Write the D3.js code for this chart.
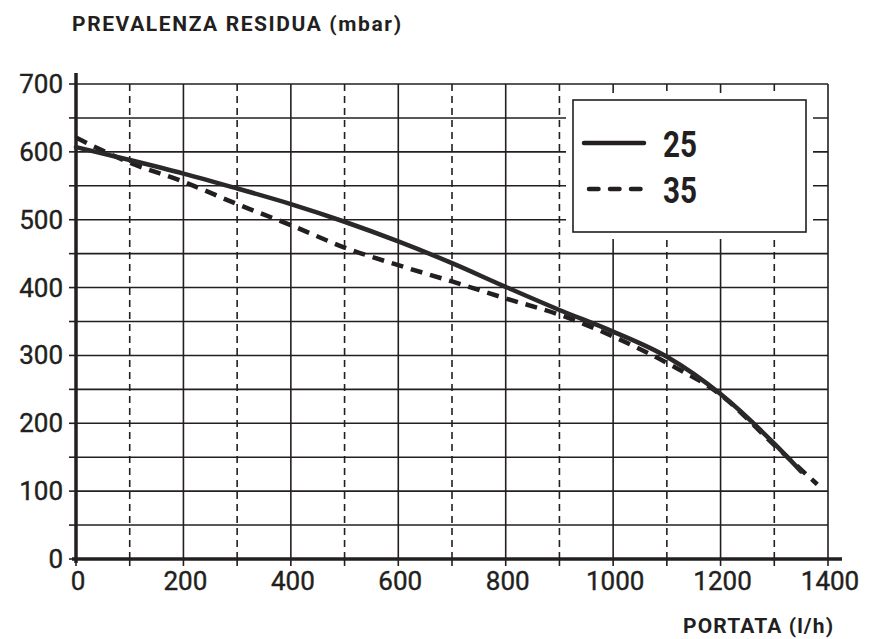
<!DOCTYPE html>
<html>
<head>
<meta charset="utf-8">
<title>prevalenza residua</title>
<script src="https://cdn.jsdelivr.net/npm/d3@7"></script>
<style>
	body, html{
		margin: 0;
		padding: 0;
		background: #fff;
	}
	svg{
		display: block;
		font-family: Roboto, 'Noto Sans', sans-serif;
	}
	.tick-label{
		font-size: 26px;
		fill: #231f20;
		stroke: #231f20;
		stroke-width: 0.4px;
	}
	.axis-title{
		font-weight: bold;
		font-size: 21px;
		fill: #231f20;
	}
	.legend-label{
		font-weight: bold;
		font-size: 36px;
		fill: #231f20;
	}
</style>
</head>
<body>
<svg id="chart" width="874" height="639"></svg>
<script>
	// curve data
	var flow25 = [0, 100, 200, 300, 400, 500, 600, 700, 800, 900, 1000, 1100, 1200, 1300, 1350];
	var head25 = [607, 588, 568, 546, 523, 497, 468, 436, 401, 367, 335, 298, 243, 170, 129];

	var flow35 = [0, 100, 200, 300, 400, 500, 600, 700, 800, 900, 1000, 1100, 1200, 1300, 1380];
	var head35 = [621, 584, 556, 523, 492, 459, 433, 409, 384, 360, 328, 289, 242, 168, 110];

	var xTicks = [0, 200, 400, 600, 800, 1000, 1200, 1400];
	var yTicks = [0, 100, 200, 300, 400, 500, 600, 700];
	var legendNames = ['25', '35'];

	var ink = '#231f20';
	var svg = d3.select('#chart');

	var x = d3.scaleLinear().domain([0, 1400]).range([76, 828]);
	var y = d3.scaleLinear().domain([0, 700]).range([559, 84]);

	var grid = svg.append('g');

	// horizontal grid every 50
	grid.selectAll('line.h')
		.data(d3.range(50, 701, 50))
		.enter().append('line')
		.attr('x1', x(0)).attr('x2', x(1400))
		.attr('y1', function(d){ return y(d); })
		.attr('y2', function(d){ return y(d); })
		.attr('stroke', ink).attr('stroke-width', 1.6);

	// vertical grid: solid on 200s, dashed on odd hundreds
	grid.selectAll('line.v')
		.data(d3.range(100, 1401, 100))
		.enter().append('line')
		.attr('x1', function(d){ return x(d); })
		.attr('x2', function(d){ return x(d); })
		.attr('y1', y(0)).attr('y2', y(700))
		.attr('stroke', ink).attr('stroke-width', 1.6)
		.attr('stroke-dasharray', function(d){ return d % 200 === 0 ? null : '7,5'; });

	// y ticks (left of axis) every 50
	grid.selectAll('line.yt')
		.data(d3.range(0, 701, 50))
		.enter().append('line')
		.attr('x1', x(0) - 7).attr('x2', x(0))
		.attr('y1', function(d){ return y(d); })
		.attr('y2', function(d){ return y(d); })
		.attr('stroke', ink).attr('stroke-width', 1.6);

	// x ticks (below axis) every 100
	grid.selectAll('line.xt')
		.data(d3.range(0, 1401, 100))
		.enter().append('line')
		.attr('x1', function(d){ return x(d); })
		.attr('x2', function(d){ return x(d); })
		.attr('y1', y(0)).attr('y2', y(0) + 7)
		.attr('stroke', ink).attr('stroke-width', 1.6);

	// axes
	svg.append('line')
		.attr('x1', x(0)).attr('x2', x(0))
		.attr('y1', y(0) + 4).attr('y2', y(700) - 11)
		.attr('stroke', ink).attr('stroke-width', 3.5);
	svg.append('line')
		.attr('x1', x(0) - 4).attr('x2', x(1400) + 14)
		.attr('y1', y(0)).attr('y2', y(0))
		.attr('stroke', ink).attr('stroke-width', 3.5);

	// tick labels
	svg.selectAll('text.yl')
		.data(yTicks)
		.enter().append('text')
		.attr('class', 'tick-label')
		.attr('x', x(0) - 13)
		.attr('y', function(d){ return y(d) + 9; })
		.attr('text-anchor', 'end')
		.text(function(d){ return d; });

	svg.selectAll('text.xl')
		.data(xTicks)
		.enter().append('text')
		.attr('class', 'tick-label')
		.attr('x', function(d){ return x(d) + 2; })
		.attr('y', y(0) + 31)
		.attr('text-anchor', 'middle')
		.text(function(d){ return d; });

	// axis titles
	svg.append('text')
		.attr('class', 'axis-title')
		.attr('x', 72).attr('y', 31)
		.attr('textLength', 329)
		.text('PREVALENZA RESIDUA (mbar)');
	svg.append('text')
		.attr('class', 'axis-title')
		.attr('x', 683).attr('y', 633)
		.attr('textLength', 150)
		.text('PORTATA (l/h)');

	// curves
	var line = d3.line()
		.x(function(d){ return x(d[0]); })
		.y(function(d){ return y(d[1]); })
		.curve(d3.curveMonotoneX);

	svg.append('path')
		.datum(d3.zip(flow35, head35))
		.attr('d', line)
		.attr('fill', 'none')
		.attr('stroke', ink).attr('stroke-width', 4.5)
		.attr('stroke-dasharray', '12,8');

	svg.append('path')
		.datum(d3.zip(flow25, head25))
		.attr('d', line)
		.attr('fill', 'none')
		.attr('stroke', '#2b2829').attr('stroke-width', 4.5)
		.attr('stroke-linecap', 'round');

	// legend
	var legend = svg.append('g');
	legend.append('rect')
		.attr('x', 566).attr('y', 93)
		.attr('width', 247).attr('height', 146)
		.attr('fill', '#fff');
	legend.append('rect')
		.attr('x', 573).attr('y', 100)
		.attr('width', 233).attr('height', 132)
		.attr('fill', '#fff')
		.attr('stroke', ink).attr('stroke-width', 1.6);

	var rows = legend.selectAll('g.row')
		.data(legendNames)
		.enter().append('g')
		.attr('transform', function(d, i){ return 'translate(0,' + (i * 46) + ')'; });

	rows.append('line')
		.attr('x1', function(d, i){ return i === 0 ? 584 : 589; })
		.attr('x2', 644)
		.attr('y1', 143).attr('y2', 143)
		.attr('stroke', ink).attr('stroke-width', 4.5)
		.attr('stroke-linecap', 'round')
		.attr('stroke-dasharray', function(d, i){ return i === 0 ? null : '9.5,11.5'; });

	rows.append('text')
		.attr('class', 'legend-label')
		.attr('x', 663).attr('y', 157)
		.attr('textLength', 34)
		.attr('lengthAdjust', 'spacingAndGlyphs')
		.text(function(d){ return d; });
</script>
</body>
</html>
